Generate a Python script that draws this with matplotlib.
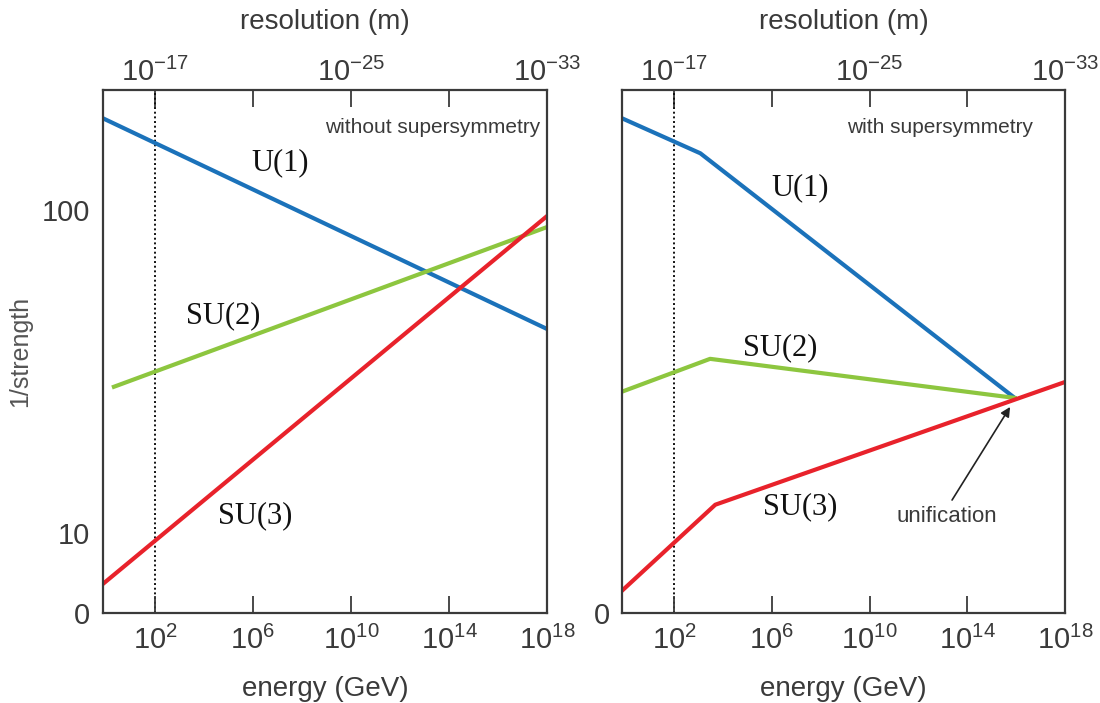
import numpy as np
import matplotlib.pyplot as plt
from matplotlib import font_manager

# energy in GeV, values in 1/strength
e_left_u1 = [0.75, 1e18]
left_u1 = [152, 54]
e_left_su2 = [2.1, 1e18]
left_su2 = [38, 92]
e_left_su3 = [0.75, 1e18]
left_su3 = [3.3, 97]

e_right_u1 = [0.75, 1.2e3, 8.7e15]
right_u1 = [152, 130, 35.3]
e_right_su2 = [0.75, 3e3, 8.7e15]
right_su2 = [36.8, 45.3, 35.3]
e_right_su3 = [0.75, 4.9e3, 1e18]
right_su3 = [2.5, 14.3, 39.2]

energy_ticks = [1e2, 1e6, 1e10, 1e14, 1e18]
energy_labels = ["$10^{2}$", "$10^{6}$", "$10^{10}$", "$10^{14}$", "$10^{18}$"]
res_ticks = [1e-17, 1e-21, 1e-25, 1e-29, 1e-33]
res_labels = ["$10^{-17}$", "", "$10^{-25}$", "", "$10^{-33}$"]
y_ticks = [0, 10, 100]

BLUE = "#1b72ba"
GREEN = "#8dc63f"
RED = "#e8222b"
GREY = "#3a3a3a"

names = {f.name for f in font_manager.fontManager.ttflist}
sans = "Liberation Sans Narrow" if "Liberation Sans Narrow" in names else "Liberation Sans"
serif = "Liberation Serif"

plt.rcParams["font.family"] = sans
plt.rcParams["mathtext.fontset"] = "custom"
plt.rcParams["mathtext.rm"] = sans
plt.rcParams["mathtext.it"] = sans
plt.rcParams["text.color"] = GREY


def fwd(v):
    return np.log10(np.asarray(v, dtype=float) + 29)


def inv(x):
    return 10 ** np.asarray(x, dtype=float) - 29


fig = plt.figure(figsize=(11, 7.03), dpi=100)
ax1 = fig.add_axes([0.0936, 0.128, 0.4036, 0.744])
ax2 = fig.add_axes([0.5655, 0.128, 0.4027, 0.744])


def setup(ax, show_y):
    ax.set_xscale("log")
    ax.set_yscale("function", functions=(fwd, inv))
    ax.set_xlim(0.75, 1e18)
    ax.set_ylim(0, 172)
    ax.axvline(1e2, color="#111111", ls=(0, (1.0, 1.4)), lw=1.4, zorder=1)
    for s in ax.spines.values():
        s.set_color(GREY)
        s.set_linewidth(1.6)
    ax.set_xticks(energy_ticks, energy_labels)
    ax.xaxis.set_minor_locator(plt.NullLocator())
    ax.tick_params(axis="x", direction="in", length=12, width=1.3, color=GREY,
                   labelsize=21, labelcolor=GREY, pad=9)
    if show_y:
        ax.set_yticks(y_ticks, [str(t) for t in y_ticks])
    else:
        ax.set_yticks([0], ["0"])
    ax.yaxis.set_minor_locator(plt.NullLocator())
    ax.tick_params(axis="y", length=0, labelsize=21, labelcolor=GREY, pad=9)
    sec = ax.secondary_xaxis("top", functions=(lambda e: 1e-15 / e, lambda r: 1e-15 / r))
    sec.set_xticks(res_ticks, res_labels)
    sec.xaxis.set_minor_locator(plt.NullLocator())
    sec.tick_params(direction="in", length=12, width=1.3, color=GREY,
                    labelsize=21, labelcolor=GREY, pad=2)
    sec.spines["top"].set_visible(False)
    sec.set_xlabel("resolution (m)", fontsize=20, color=GREY, labelpad=21)
    ax.set_xlabel("energy (GeV)", fontsize=20, color=GREY, labelpad=15)


setup(ax1, True)
setup(ax2, False)
ax1.set_ylabel("1/strength", fontsize=18, color="#555555")
ax1.yaxis.set_label_coords(-0.16, 0.5)

lw = 3.0
ax1.plot(e_left_u1, left_u1, color=BLUE, lw=lw)
ax1.plot(e_left_su2, left_su2, color=GREEN, lw=lw)
ax1.plot(e_left_su3, left_su3, color=RED, lw=lw)

ax2.plot(e_right_u1, right_u1, color=BLUE, lw=lw)
ax2.plot(e_right_su2, right_su2, color=GREEN, lw=lw)
ax2.plot(e_right_su3, right_su3, color=RED, lw=lw)

lab = dict(family=serif, fontsize=22, color="#111111", ha="center", va="center")
ax1.text(0.399, 0.860, "U(1)", transform=ax1.transAxes, **lab)
ax1.text(0.270, 0.568, "SU(2)", transform=ax1.transAxes, **lab)
ax1.text(0.342, 0.186, "SU(3)", transform=ax1.transAxes, **lab)
ax2.text(0.402, 0.813, "U(1)", transform=ax2.transAxes, **lab)
ax2.text(0.357, 0.508, "SU(2)", transform=ax2.transAxes, **lab)
ax2.text(0.402, 0.203, "SU(3)", transform=ax2.transAxes, **lab)

ax1.text(0.984, 0.929, "without supersymmetry", transform=ax1.transAxes,
         ha="right", va="center", fontsize=15, color=GREY)
ax2.text(0.718, 0.929, "with supersymmetry", transform=ax2.transAxes,
         ha="center", va="center", fontsize=15, color=GREY)

ax2.text(0.734, 0.184, "unification", transform=ax2.transAxes,
         ha="center", va="center", fontsize=16, color=GREY)
ax2.annotate("", xy=(0.876, 0.394), xycoords="axes fraction",
             xytext=(0.745, 0.216), textcoords="axes fraction",
             arrowprops=dict(arrowstyle="-|>", color="#222222", lw=1.2,
                             mutation_scale=14, shrinkA=0, shrinkB=0))

fig.savefig("out.png", dpi=100)
